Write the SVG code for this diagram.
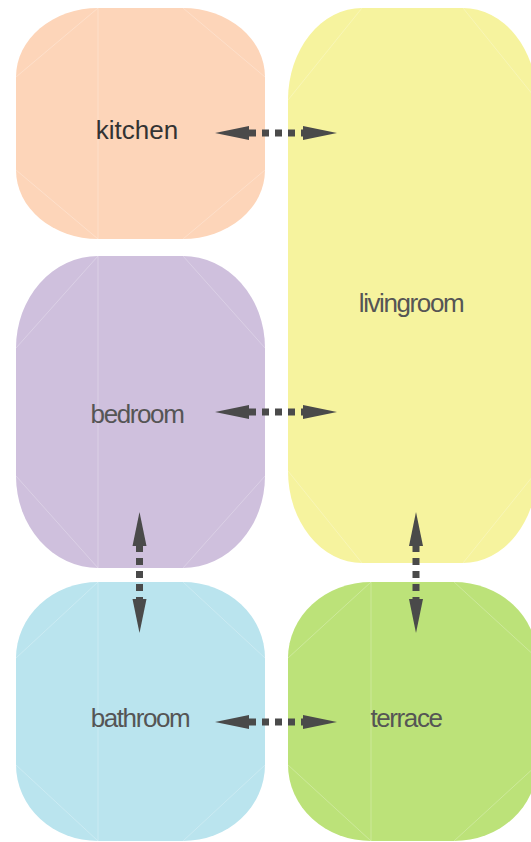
<svg xmlns="http://www.w3.org/2000/svg" width="531" height="842" viewBox="0 0 531 842">
<style>
.guide{stroke:#ffffff;stroke-opacity:0.25;stroke-width:1;fill:none}
.lbl{font-family:"Liberation Sans",Arial,sans-serif;font-size:26px;text-anchor:middle;fill:#555555;letter-spacing:-1.4px}
.dash{stroke:#4a4a4a;stroke-width:7;stroke-dasharray:7 6;fill:none}
.head{fill:#4a4a4a}
</style>
<rect width="531" height="842" fill="#ffffff"/>
<g id="kitchen">
<rect x="16" y="8" width="249" height="231" rx="82" ry="69" fill="#FDD5B9"/>
<path class="guide" d="M98 8V239M16 77L98 8M183 8L265 77M16 170L98 239M183 239L265 170"/>
<text class="lbl" x="137" y="139" style="fill:#333333;letter-spacing:0">kitchen</text>
</g>
<g id="livingroom">
<rect x="288" y="8" width="249" height="555" rx="74" ry="92" fill="#F6F39E"/>
<path class="guide" d="M288 100L362 8M463 8L537 100M288 471L362 563M463 563L537 471"/>
<text class="lbl" x="411" y="312">livingroom</text>
</g>
<g id="bedroom">
<rect x="16" y="256" width="249" height="312" rx="82" ry="92" fill="#CFC0DD"/>
<path class="guide" d="M98 256V568M16 348L98 256M183 256L265 348M16 476L98 568M183 568L265 476"/>
<text class="lbl" x="137" y="423">bedroom</text>
</g>
<g id="bathroom">
<rect x="16" y="582" width="249" height="259" rx="82" ry="76" fill="#BAE4EE"/>
<path class="guide" d="M98 582V841M16 658L98 582M183 582L265 658M16 765L98 841M183 841L265 765"/>
<text class="lbl" x="140" y="727">bathroom</text>
</g>
<g id="terrace">
<rect x="288" y="582" width="249" height="259" rx="83" ry="76" fill="#BCE279"/>
<path class="guide" d="M371 582V841M288 658L371 582M454 582L537 658M288 765L371 841M454 841L537 765"/>
<text class="lbl" x="406" y="727">terrace</text>
</g>
<g id="connectors">
<line class="dash" x1="249" y1="133" x2="303" y2="133"/>
<polygon class="head" points="215,133 249,126 249,140"/>
<polygon class="head" points="337,133 303,126 303,140"/>
<line class="dash" x1="249" y1="412" x2="303" y2="412"/>
<polygon class="head" points="215,412 249,405 249,419"/>
<polygon class="head" points="337,412 303,405 303,419"/>
<line class="dash" x1="249" y1="722" x2="303" y2="722"/>
<polygon class="head" points="215,722 249,715 249,729"/>
<polygon class="head" points="337,722 303,715 303,729"/>
<line class="dash" x1="139.5" y1="545" x2="139.5" y2="599"/>
<polygon class="head" points="139.5,512 132.5,546 146.5,546"/>
<polygon class="head" points="139.5,633 132.5,599 146.5,599"/>
<line class="dash" x1="416" y1="545" x2="416" y2="599"/>
<polygon class="head" points="416,512 409,546 423,546"/>
<polygon class="head" points="416,633 409,599 423,599"/>
</g>
</svg>
